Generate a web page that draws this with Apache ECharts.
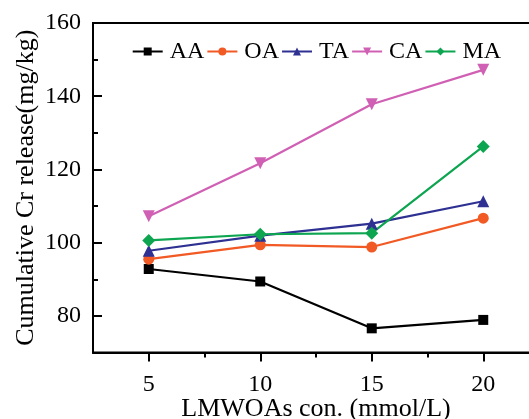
<!DOCTYPE html>
<html>
<head>
<meta charset="utf-8">
<script src="https://cdn.jsdelivr.net/npm/echarts@6/dist/echarts.min.js"></script>
<style>
  html, body { margin: 0; padding: 0; background: #fff; }
  #chart { width: 529px; height: 419px; }
</style>
</head>
<body>
<div id="chart"></div>
<script>
// data
const conc = [5, 10, 15, 20];
const aa = [92.8, 89.4, 76.6, 78.9];
const oa = [95.5, 99.4, 98.8, 106.7];
const ta = [97.8, 101.9, 105.2, 111.3];
const ca = [107.2, 121.7, 137.8, 147.2];
const ma = [100.6, 102.3, 102.6, 126.3];

const xMajor = [5, 10, 15, 20];
const xMinor = [7.5, 12.5, 17.5];
const yMajor = [80, 100, 120, 140, 160];
const yMinor = [90, 110, 130, 150];

const font = 'Liberation Serif, Times New Roman, serif';

const chart = echarts.init(document.getElementById('chart'));

function pairs(vals) {
  return conc.map((c, i) => [c, vals[i]]);
}

function line(name, vals, color, symbol, size) {
  return {
    name: name,
    type: 'line',
    data: pairs(vals),
    symbol: symbol,
    symbolSize: size,
    showSymbol: true,
    lineStyle: { color: color, width: 2.2 },
    itemStyle: { color: color },
    emphasis: { disabled: true },
    animation: false
  };
}

const option = {
  backgroundColor: '#fff',
  grid: {
    left: 93, top: 23, right: -10, bottom: 66.5,
    outerBoundsMode: 'none',
    containLabel: false,
    show: true, borderColor: '#000', borderWidth: 2
  },
  legend: {
    left: 126.7, top: 34.5,
    itemWidth: 30, itemHeight: 10, itemGap: 2,
    textStyle: { fontFamily: font, fontSize: 24, color: '#000', padding: [0, 0, 0, 2] },
    data: ['AA', 'OA', 'TA', 'CA', 'MA']
  },
  xAxis: [
    {
      type: 'value', min: 2.5, max: 22.5, position: 'bottom',
      name: 'LMWOAs con. (mmol/L)', nameLocation: 'middle', nameGap: 44,
      nameMoveOverlap: false,
      nameTextStyle: { fontFamily: font, fontSize: 26, color: '#000' },
      axisLine: { show: true, lineStyle: { color: '#000', width: 2 } },
      axisTick: { show: true, inside: false, length: 9, customValues: xMajor, lineStyle: { color: '#000', width: 2 } },
      axisLabel: { customValues: xMajor, fontFamily: font, fontSize: 24, color: '#000', margin: 20 },
      splitLine: { show: false }
    },
    {
      type: 'value', min: 2.5, max: 22.5, position: 'bottom',
      axisLine: { show: false },
      axisTick: { show: true, inside: false, length: 5, customValues: xMinor, lineStyle: { color: '#000', width: 2 } },
      axisLabel: { show: false },
      splitLine: { show: false }
    }
  ],
  yAxis: [
    {
      type: 'value', min: 70, max: 160, position: 'left',
      name: 'Cumulative Cr release(mg/kg)', nameLocation: 'middle', nameGap: 54,
      nameMoveOverlap: false,
      nameTextStyle: { fontFamily: font, fontSize: 26, color: '#000' },
      axisLine: { show: true, lineStyle: { color: '#000', width: 2 } },
      axisTick: { show: true, inside: true, length: 9, customValues: yMajor, lineStyle: { color: '#000', width: 2 } },
      axisLabel: { customValues: yMajor, fontFamily: font, fontSize: 24, color: '#000', margin: 12 },
      splitLine: { show: false }
    },
    {
      type: 'value', min: 70, max: 160, position: 'left',
      axisLine: { show: false },
      axisTick: { show: true, inside: true, length: 5, customValues: yMinor, lineStyle: { color: '#000', width: 2 } },
      axisLabel: { show: false },
      splitLine: { show: false }
    }
  ],
  series: [
    line('AA', aa, '#000000', 'rect', 10),
    line('OA', oa, '#F15A24', 'circle', 11),
    line('TA', ta, '#2E3192', 'triangle', 12),
    line('CA', ca, '#D060B4', 'path://M0,0 L10,0 L5,9 Z', 12),
    line('MA', ma, '#0DA550', 'diamond', 13)
  ]
};

chart.setOption(option);
</script>
</body>
</html>
